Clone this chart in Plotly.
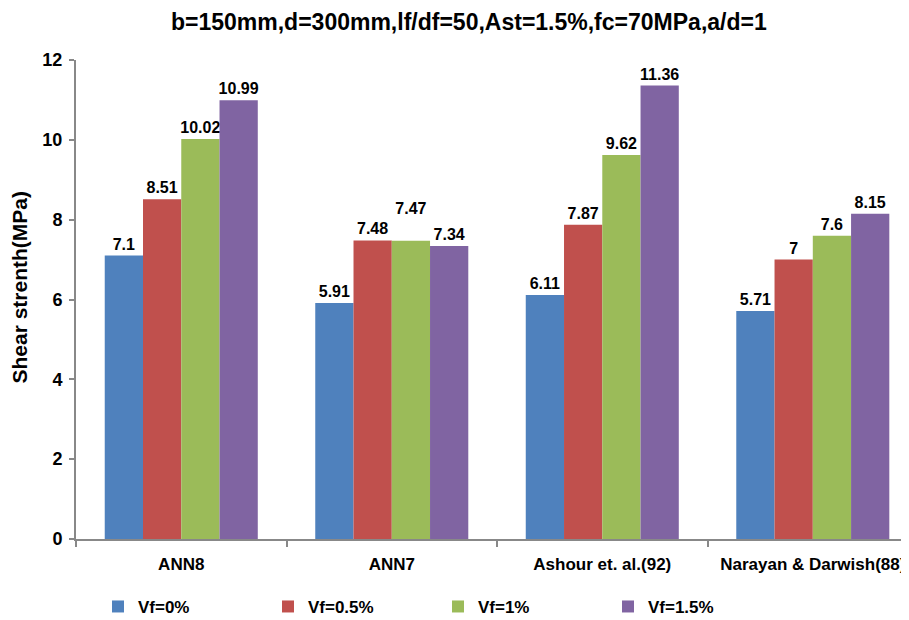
import plotly.graph_objects as go

categories = ["ANN8", "ANN7", "Ashour et. al.(92)", "Narayan & Darwish(88)"]
series_names = ["Vf=0%", "Vf=0.5%", "Vf=1%", "Vf=1.5%"]
vf0 = [7.1, 5.91, 6.11, 5.71]
vf05 = [8.51, 7.48, 7.87, 7.0]
vf1 = [10.02, 7.47, 9.62, 7.6]
vf15 = [10.99, 7.34, 11.36, 8.15]
y_ticks = [0, 2, 4, 6, 8, 10, 12]
colors = ["#4F81BD", "#C0504D", "#9BBB59", "#8064A2"]
# labels lifted one line above their bar (as in the reference) to avoid overlap
lifted = {("Vf=1%", "ANN7")}

font_family = "Liberation Sans, Arial, sans-serif"

fig = go.Figure()
for name, vals, col in zip(series_names, [vf0, vf05, vf1, vf15], colors):
    texts = []
    for cat, v in zip(categories, vals):
        t = f"{v:g}"
        if (name, cat) in lifted:
            t += "<br>&nbsp;"
        texts.append(t)
    fig.add_trace(go.Bar(
        x=categories, y=vals, name=name,
        marker=dict(color=col, line=dict(width=0)),
        text=texts,
        textposition="outside",
        constraintext="none",
        textfont=dict(family=font_family, size=16, color="black", weight="bold"),
        cliponaxis=False,
    ))

fig.update_layout(
    width=909, height=620,
    margin=dict(l=68, r=8, t=52, b=89, autoexpand=False),
    paper_bgcolor="white", plot_bgcolor="white",
    barmode="group", bargap=0.273, bargroupgap=0,
    font=dict(family=font_family, color="black"),
    title=dict(text="<b>b=150mm,d=300mm,lf/df=50,Ast=1.5%,fc=70MPa,a/d=1</b>",
               x=0.507, xanchor="center", y=0.977, yanchor="middle",
               font=dict(size=23, family=font_family)),
    showlegend=True,
    legend=dict(orientation="h", xref="container", yref="container",
                x=0.099, xanchor="left", y=0.034, yanchor="middle",
                entrywidth=125, entrywidthmode="pixels",
                font=dict(size=17, family=font_family, weight="bold"),
                traceorder="normal"),
    annotations=[dict(
        text="<b>Shear strenth(MPa)</b>", textangle=-90,
        xref="paper", yref="paper", x=-0.0672, y=0.525,
        xanchor="center", yanchor="middle", showarrow=False,
        font=dict(size=21, family=font_family, color="black"),
    )],
)

fig.update_xaxes(
    range=[-0.5, 3.457],
    showline=True, linecolor="#888888", linewidth=2,
    ticks="outside", tickson="boundaries", ticklen=6, tickcolor="#888888", tickwidth=2,
    ticklabelstandoff=9,
    tickfont=dict(size=17, family=font_family, weight="bold"),
    showgrid=False, automargin=False,
)
fig.update_yaxes(
    range=[0, 12], tickvals=y_ticks,
    showline=True, linecolor="#888888", linewidth=2,
    ticks="outside", ticklen=5, tickcolor="#888888", tickwidth=2,
    ticklabelstandoff=3,
    tickfont=dict(size=18, family=font_family, weight="bold"),
    showgrid=False, zeroline=False, automargin=False,
)

fig.write_html("out.html")
